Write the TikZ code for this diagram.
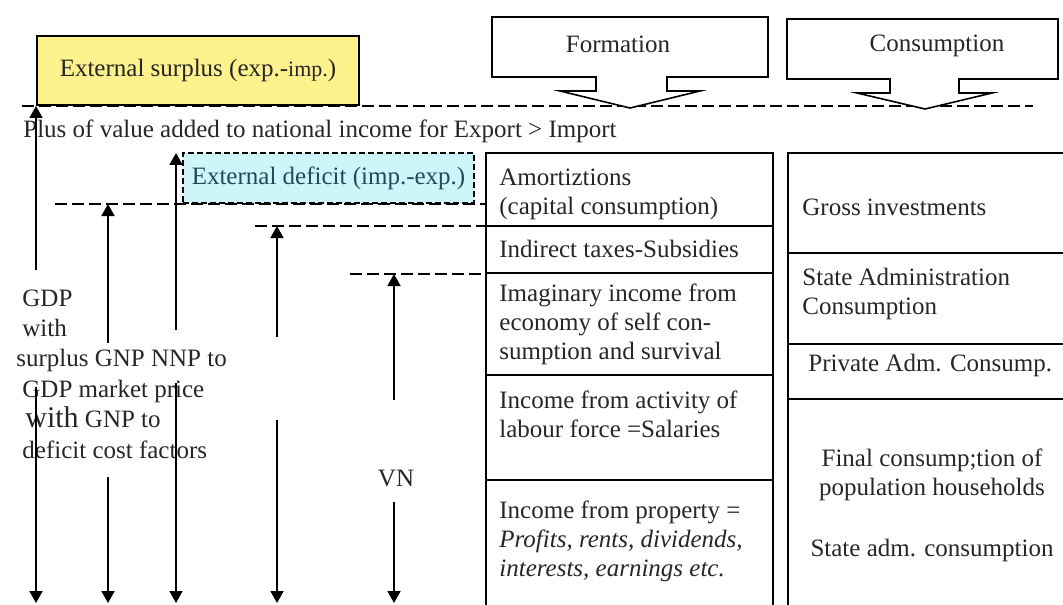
\documentclass[tikz,border=0pt]{standalone}
\usepackage{fontspec}
\setmainfont{Liberation Serif}
\usetikzlibrary{arrows.meta}
\definecolor{surplusyellow}{RGB}{254,242,140}
\definecolor{deficitcyan}{RGB}{206,246,250}
\definecolor{deficittext}{RGB}{30,76,82}

\begin{document}
\begin{tikzpicture}[x=0.5pt,y=-0.5pt,
	font=\fontsize{12.5}{14.5}\selectfont, text=black!85,
	levelline/.style={line width=0.75pt,dash pattern=on 6pt off 2.5pt},
	updown/.style={line width=0.9pt,-{Triangle[length=6pt,width=6.5pt]}},
	tablerule/.style={line width=1pt},
	callout/.style={line width=0.8pt,fill=white},
	cellnode/.style={anchor=west,align=left,inner sep=0pt}]
					% 画布大小
					\useasboundingbox (0,0) rectangle (1063,604);
					
					% 设置表格的位置
					\def\leftTabL{486}
					\def\leftTabR{773}
					\def\rightTabL{788}
					\def\rightTabR{1065}
					\def\tabTop{153}
					\def\tabBottom{606}
					
					% 水平虚线
					\draw[levelline] (22,106) -- (1033,106);
					\draw[levelline] (55,204) -- (\leftTabL,204);
					\draw[levelline] (255,226) -- (\leftTabL,226);
					\draw[levelline] (350,274) -- (\leftTabL,274);
					
					% 绘制两个箭头框
					\draw[callout] (492,17) -- (768,17) -- (768,77) -- (667,77) -- (667,91) -- (700,91) -- (630,108) -- (560,91) -- (596,91) -- (596,77) -- (492,77) -- cycle;
					\node (formation) at (618,44) {Formation};
					\draw[callout] (787,19) -- (1058,19) -- (1058,79) -- (959,79) -- (959,93) -- (992,93) -- (925,109) -- (857,93) -- (890,93) -- (890,79) -- (787,79) -- cycle;
					\node (consumption) at (937,46) {Consumption};
					
					% 外部顺差与逆差
					\node[draw=black,line width=1pt,fill=surplusyellow,minimum width=161pt,minimum height=34.5pt,inner sep=0pt] (surplus) at (198,70.5) {External surplus (exp.-{\fontsize{11}{13}\selectfont imp.})};
					\node[cellnode] (plus) at (23,131) {Plus of value added to national income for Export > Import};
					\node[draw=black,line width=1pt,dash pattern=on 3pt off 1.5pt,fill=deficitcyan,text=deficittext,minimum width=145.5pt,minimum height=25pt,inner sep=0pt] (deficit) at (328.5,178) {External deficit (imp.-exp.)};
					
					% 左表格（形成）
					\draw[tablerule] (\leftTabL,\tabBottom) -- (\leftTabL,\tabTop) -- (\leftTabR,\tabTop) -- (\leftTabR,\tabBottom);
					\foreach \y in {226,273,375,480}
						\draw[tablerule] (\leftTabL,\y) -- (\leftTabR,\y);
					\node[cellnode] (amort) at (499,194) {Amortiztions\\(capital consumption)};
					\node[cellnode] (taxes) at (499,249) {Indirect taxes-Subsidies};
					\node[cellnode] (imaginary) at (499,324) {Imaginary income from\\economy of self con-\\sumption and survival};
					\node[cellnode] (labour) at (499,414) {Income from activity of\\labour force =Salaries};
					\node[cellnode] (property) at (499,541) {Income from property =\\\textit{Profits, rents, dividends,}\\\textit{interests, earnings etc.}};
					
					% 右表格（消费）
					\draw[tablerule] (\rightTabL,\tabBottom) -- (\rightTabL,\tabTop) -- (\rightTabR,\tabTop);
					\foreach \y in {253,344,399}
						\draw[tablerule] (\rightTabL,\y) -- (\rightTabR,\y);
					\node[cellnode] (gross) at (802,207) {Gross investments};
					\node[cellnode] (stateadm) at (802,294) {State Administration\\Consumption};
					\node[cellnode] (private) at (808,365) {Private Adm. Consump.};
					\node[align=center,inner sep=0pt] (final) at (932,475) {Final consump;tion of\\population households};
					\node[inner sep=0pt] (statecons) at (932,550) {State adm. consumption};
					
					% 左侧文字
					\node[cellnode,font=\fontsize{12.5}{15.2}\selectfont] (gdp) at (16,374) {\hspace*{3pt}GDP\\\hspace*{3pt}with\\surplus GNP NNP to\\\hspace*{3pt}GDP market price\\\hspace*{4.5pt}{\fontsize{15}{15.2}\selectfont with} GNP to\\\hspace*{3pt}deficit cost factors};
					\node (vn) at (396,478) {VN};
					
					% 竖直箭头
					\foreach \n/\x/\t/\a/\b in {1/36/106/270/387, 2/108/204/343/477, 3/176/153/330/383, 4/277/226/337/420, 5/394/274/400/502}{
						\coordinate (top\n) at (\x,\t);
						\coordinate (up\n) at (\x,\a);
						\coordinate (lo\n) at (\x,\b);
						\coordinate (bot\n) at (\x,603);
						\draw[updown] (up\n) -- (top\n);
						\draw[updown] (lo\n) -- (bot\n);
					}
				\end{tikzpicture}
\end{document}
